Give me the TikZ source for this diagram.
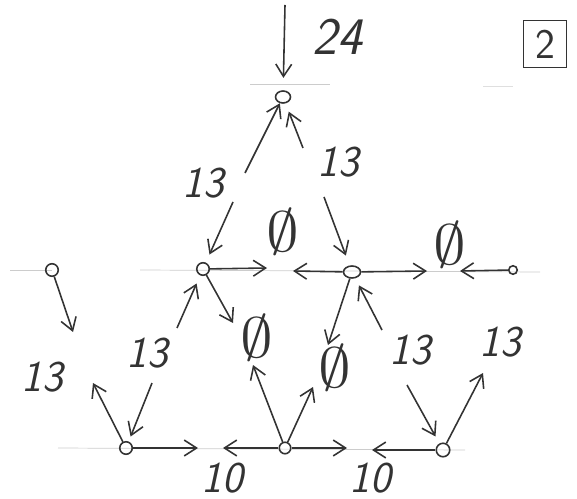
\documentclass[tikz,border=0pt]{standalone}
\usepackage{fontspec}
\usepackage{amssymb}
\usetikzlibrary{shapes, arrows.meta, calc}

\tikzset{
    joint/.style={circle, draw=black!80, line width=0.9pt, inner sep=0pt, minimum size=0.25cm},
    force/.style={draw=black!80, line width=0.9pt, -{Straight Barb[length=7pt,width=9pt]}},
    guide/.style={gray!40, thin},
    val/.style={black!80, font=\fontsize{25}{30}\selectfont\sffamily\itshape},
    zero/.style={black!80, font=\fontsize{25}{30}\selectfont}
}
\newcommand{\nought}{\scalebox{1.5}[1.3]{$\emptyset$}}

\begin{document}
\begin{tikzpicture}[x=0.02cm, y=-0.02cm]
    \useasboundingbox (0,0) rectangle (577,499);
    % Guide lines
    \draw[guide] (250,84) -- (330,84);
    \draw[guide, gray!25] (483,86) -- (513,86);
    \draw[guide] (10,270) -- (52,270);
    \draw[guide] (140,270) -- (540,272);
    \draw[guide] (58,448) -- (465,450);
    % Joints
    \node[joint, ellipse, minimum width=0.3cm, minimum height=0.24cm] (T) at (283,97) {};
    \node[joint] (A) at (52,270) {};
    \node[joint] (B) at (203,269) {};
    \node[joint, ellipse, minimum width=0.34cm, minimum height=0.24cm] (C) at (352,272) {};
    \node[joint, minimum size=0.17cm] (D) at (513,270) {};
    \node[joint] (E) at (126,448) {};
    \node[joint, minimum size=0.23cm] (F) at (285,448) {};
    \node[joint, minimum size=0.27cm] (G) at (443,450) {};
    % Free ends
    \coordinate (p0) at (285,5);
    \coordinate (p1) at (245,173);
    \coordinate (p2) at (303,148);
    \coordinate (p3) at (233,202);
    \coordinate (p4) at (324,197);
    \coordinate (p5) at (73,332);
    \coordinate (p6) at (267,268);
    \coordinate (p7) at (293,271);
    \coordinate (p8) at (427,271);
    \coordinate (p9) at (460,271);
    \coordinate (p10) at (177,328);
    \coordinate (p11) at (233,323);
    \coordinate (p12) at (328,345);
    \coordinate (p13) at (382,330);
    \coordinate (p14) at (93,383);
    \coordinate (p15) at (152,383);
    \coordinate (p16) at (198,448);
    \coordinate (p17) at (223,448);
    \coordinate (p18) at (347,448);
    \coordinate (p19) at (372,450);
    \coordinate (p20) at (253,365);
    \coordinate (p21) at (313,387);
    \coordinate (p22) at (407,385);
    \coordinate (p23) at (483,373);
    % Forces
    \draw[force, shorten >=7pt] (p0) -- (T);
    \draw[force] (p1) -- (T);
    \draw[force, shorten >=5pt] (p2) -- (T);
    \draw[force, shorten >=5pt] (p3) -- (B);
    \draw[force, shorten >=6pt] (p4) -- (C);
    \draw[force] (A) -- (p5);
    \draw[force] (B) -- (p6);
    \draw[force] (C) -- (p7);
    \draw[force] (C) -- (p8);
    \draw[force] (D) -- (p9);
    \draw[force, shorten >=5pt] (p10) -- (B);
    \draw[force] (B) -- (p11);
    \draw[force] (C) -- (p12);
    \draw[force, shorten >=4.5pt] (p13) -- (C);
    \draw[force] (E) -- (p14);
    \draw[force, shorten >=3pt] (p15) -- (E);
    \draw[force] (E) -- (p16);
    \draw[force] (F) -- (p17);
    \draw[force] (F) -- (p18);
    \draw[force] (G) -- (p19);
    \draw[force] (F) -- (p20);
    \draw[force] (F) -- (p21);
    \draw[force, shorten >=4.5pt] (p22) -- (G);
    \draw[force] (G) -- (p23);
    % Values
    \node[val, font=\fontsize{30}{34}\selectfont\sffamily\itshape] (v24) at (337,37) {24};
    \node[val] (vTl) at (203,183) {13};
    \node[val] (vTr) at (338,162) {13};
    \node[zero] (vBC) at (283,232) {\nought};
    \node[zero] (vCD) at (450,245) {\nought};
    \node[zero] (vBF) at (257,338) {\nought};
    \node[zero] (vCF) at (335,368) {\nought};
    \node[val] (vA) at (42,377) {13};
    \node[val] (vE) at (147,353) {13};
    \node[val] (vG) at (410,350) {13};
    \node[val] (vGr) at (500,342) {13};
    \node[val] (vEF) at (222,478) {10};
    \node[val] (vFG) at (370,478) {10};
    % Number
    \node[val, font=\fontsize{24}{28}\selectfont\sffamily, draw, line width=0.9pt, minimum width=0.86cm, minimum height=0.94cm] (nr) at (545,44) {2};
\end{tikzpicture}
\end{document}
